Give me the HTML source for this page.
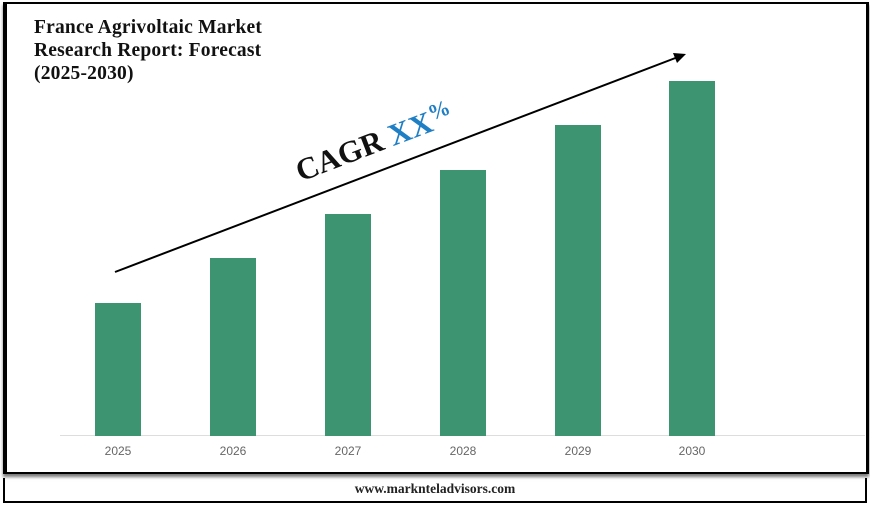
<!DOCTYPE html>
<html><head><style>
body{margin:0;width:870px;height:506px;background:#fff;position:relative;overflow:hidden;font-family:"Liberation Serif",serif}
.frame{position:absolute;left:3px;top:2px;width:859px;height:468px;border:2px solid #000;border-left:4px solid #000;border-right:3px solid #000;box-shadow:0 3px 3px #777}
.foot{position:absolute;left:3px;top:478px;width:860px;height:23px;border:2px solid #000;border-top:none;text-align:center;font-size:13.5px;font-weight:bold;line-height:22px;color:#222}
.title{position:absolute;left:34px;top:16px;font-size:19.5px;letter-spacing:0.2px;font-weight:bold;line-height:23px;color:#111}
.bar{position:absolute;width:46px;background:#3d9470;bottom:70px}
.lbl{position:absolute;top:444px;width:60px;text-align:center;font-size:12px;color:#666;font-family:"Liberation Sans Narrow","Liberation Sans",sans-serif}
</style></head><body>
<div class="frame"></div>
<div class="title">France Agrivoltaic Market<br>Research Report: Forecast<br>(2025-2030)</div>
<div style="position:absolute;left:60px;top:435px;width:805px;height:1px;background:#ddd"></div>
<div class="bar" style="left:95px;top:303px"></div>
<div class="bar" style="left:210px;top:258px"></div>
<div class="bar" style="left:325px;top:214px"></div>
<div class="bar" style="left:440px;top:170px"></div>
<div class="bar" style="left:555px;top:125px"></div>
<div class="bar" style="left:669px;top:81px"></div>
<div class="lbl" style="left:88px">2025</div>
<div class="lbl" style="left:203px">2026</div>
<div class="lbl" style="left:318px">2027</div>
<div class="lbl" style="left:433px">2028</div>
<div class="lbl" style="left:548px">2029</div>
<div class="lbl" style="left:662px">2030</div>
<svg style="position:absolute;left:0;top:0" width="870" height="506">
<line x1="115" y1="272" x2="678" y2="57" stroke="#000" stroke-width="2"/>
<polygon points="686,54 673,53 677,63" fill="#000"/>
<text x="378" y="152" transform="rotate(-21 378 152)" text-anchor="middle" font-family="Liberation Serif" font-weight="bold" font-size="31" fill="#111">CAGR <tspan fill="#1f7fc4">XX</tspan><tspan fill="#1f7fc4" font-size="22" dy="-10">%</tspan></text>
</svg>
<div class="foot">www.marknteladvisors.com</div>
</body></html>
